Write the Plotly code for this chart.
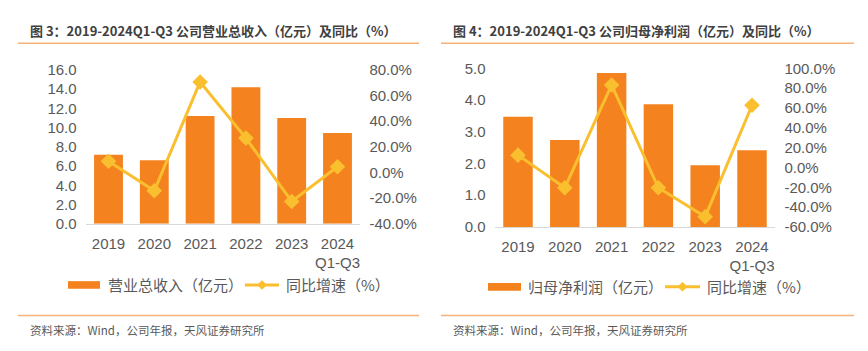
import plotly.graph_objects as go

W, H = 868, 351

# ---------------- data ----------------
years = ["2019", "2020", "2021", "2022", "2023", "2024"]
year_labels = ["2019", "2020", "2021", "2022", "2023", "2024<br>Q1-Q3"]

revenue = [7.17, 6.6, 11.2, 14.2, 11.0, 9.45]          # 营业总收入（亿元）
revenue_yoy = [8.8, -14.3, 70.6, 26.8, -22.6, 4.5]     # 同比增速（%）

profit = [3.47, 2.74, 4.85, 3.87, 1.94, 2.42]          # 归母净利润（亿元）
profit_yoy = [12.4, -20.5, 83.2, -20.5, -49.7, 62.7]   # 同比增速（%）

left_ticks = [0, 2, 4, 6, 8, 10, 12, 14, 16]
left_pct_ticks = [-40, -20, 0, 20, 40, 60, 80]
right_ticks = [0, 1, 2, 3, 4, 5]
right_pct_ticks = [-60, -40, -20, 0, 20, 40, 60, 80, 100]

# ---------------- style ----------------
BAR = "#F4831F"
LINE = "#F9BF2F"
ORANGE_RULE = "#F7B27A"
TXT = "#595959"
NUM_FONT = "Liberation Sans, Arial, sans-serif"
CJK_FONT = "Noto Sans CJK SC, sans-serif"


def px(x):
    return x / W


def py(y):
    return 1 - y / H


def num_text(vals):
    return ["{:.1f}".format(v) for v in vals]


def pct_text(vals):
    return ["{:.1f}%".format(v) for v in vals]


fig = go.Figure()

fig.add_trace(go.Bar(x=years, y=revenue, marker=dict(color=BAR, line=dict(width=0)),
                     xaxis="x", yaxis="y", showlegend=False))
fig.add_trace(go.Scatter(x=years, y=revenue_yoy, mode="lines+markers",
                         line=dict(color=LINE, width=3),
                         marker=dict(symbol="diamond", size=12, color=LINE),
                         xaxis="x", yaxis="y2", showlegend=False))
fig.add_trace(go.Bar(x=years, y=profit, marker=dict(color=BAR, line=dict(width=0)),
                     xaxis="x2", yaxis="y3", showlegend=False))
fig.add_trace(go.Scatter(x=years, y=profit_yoy, mode="lines+markers",
                         line=dict(color=LINE, width=3),
                         marker=dict(symbol="diamond", size=12, color=LINE),
                         xaxis="x2", yaxis="y4", showlegend=False))

tickfont = dict(family=NUM_FONT, size=15, color=TXT)

xcommon = dict(type="category", tickmode="array", tickvals=years, ticktext=year_labels,
               showline=True, linecolor="#D9D9D9", linewidth=1, showgrid=False,
               ticks="", tickfont=tickfont, zeroline=False, fixedrange=True,
               ticklabelstandoff=6)

ycommon = dict(showgrid=False, zeroline=False, showline=False, ticks="",
               tickmode="array", tickfont=tickfont, fixedrange=True)

fig.update_layout(
    width=W, height=H,
    margin=dict(l=0, r=0, t=0, b=0),
    paper_bgcolor="white", plot_bgcolor="white",
    bargap=0.37,
    xaxis=dict(domain=[px(85.6), px(360.4)], anchor="y", **xcommon),
    yaxis=dict(domain=[py(225.7), py(64)], range=[0, 16], tickvals=left_ticks,
               ticktext=num_text(left_ticks), ticklabelstandoff=8, anchor="x", **ycommon),
    yaxis2=dict(domain=[py(225.7), py(64)], range=[-40, 80], tickvals=left_pct_ticks,
                ticktext=pct_text(left_pct_ticks), side="right", overlaying="y",
                ticklabelstandoff=8, anchor="x", **ycommon),
    xaxis2=dict(domain=[px(494.6), px(775.4)], anchor="y3", **xcommon),
    yaxis3=dict(domain=[py(229), py(62.3)], range=[0, 5], tickvals=right_ticks,
                ticktext=num_text(right_ticks), ticklabelstandoff=8, anchor="x2", **ycommon),
    yaxis4=dict(domain=[py(229), py(62.3)], range=[-60, 100], tickvals=right_pct_ticks,
                ticktext=pct_text(right_pct_ticks), side="right", overlaying="y3",
                ticklabelstandoff=8, anchor="x2", **ycommon),
)

shapes = []
annotations = []

# titles + rules
titles = [
    (28, 18, 419, "图 3：2019-2024Q1-Q3 公司营业总收入（亿元）及同比（%）"),
    (451, 441, 854, "图 4：2019-2024Q1-Q3 公司归母净利润（亿元）及同比（%）"),
]
for tx, lx0, lx1, t in titles:
    annotations.append(dict(x=px(tx), y=py(23), xref="paper", yref="paper",
                            xanchor="left", yanchor="middle", showarrow=False,
                            text="<b>" + t + "</b>",
                            font=dict(family=CJK_FONT, size=13, color="#404040")))
    shapes.append(dict(type="line", xref="paper", yref="paper",
                       x0=px(lx0), x1=px(lx1), y0=py(36), y1=py(36),
                       line=dict(color=ORANGE_RULE, width=1.5)))
    shapes.append(dict(type="line", xref="paper", yref="paper",
                       x0=px(lx0), x1=px(lx1), y0=py(322), y1=py(322),
                       line=dict(color=ORANGE_RULE, width=1.5)))
    annotations.append(dict(x=px(tx), y=py(337), xref="paper", yref="paper",
                            xanchor="left", yanchor="middle", showarrow=False,
                            text="资料来源：Wind，公司年报，天风证券研究所",
                            font=dict(family=CJK_FONT, size=11.5, color=TXT)))

# legends
legends = [
    (68, 100, 106, "营业总收入（亿元）", 245, 279, 284, 290),
    (488, 521, 526, "归母净利润（亿元）", 665, 700, 705, 292),
]
for rx0, rx1, tx1, lab, lx0, lx1, tx2, yy in legends:
    shapes.append(dict(type="rect", xref="paper", yref="paper",
                       x0=px(rx0), x1=px(rx1), y0=py(yy + 4), y1=py(yy - 4),
                       fillcolor=BAR, line=dict(width=0)))
    annotations.append(dict(x=px(tx1), y=py(yy), xref="paper", yref="paper",
                            xanchor="left", yanchor="middle", showarrow=False,
                            text=lab, font=dict(family=CJK_FONT, size=15, color=TXT)))
    shapes.append(dict(type="line", xref="paper", yref="paper",
                       x0=px(lx0), x1=px(lx1), y0=py(yy), y1=py(yy),
                       line=dict(color=LINE, width=3)))
    cx = (lx0 + lx1) / 2
    d = 5
    path = "M {} {} L {} {} L {} {} L {} {} Z".format(
        px(cx - d), py(yy), px(cx), py(yy - d), px(cx + d), py(yy), px(cx), py(yy + d))
    shapes.append(dict(type="path", xref="paper", yref="paper", path=path,
                       fillcolor=LINE, line=dict(width=0)))
    annotations.append(dict(x=px(tx2), y=py(yy), xref="paper", yref="paper",
                            xanchor="left", yanchor="middle", showarrow=False,
                            text="同比增速（%）", font=dict(family=CJK_FONT, size=15, color=TXT)))

fig.update_layout(shapes=shapes, annotations=annotations)

fig.write_html("out.html", config={"displayModeBar": False})
